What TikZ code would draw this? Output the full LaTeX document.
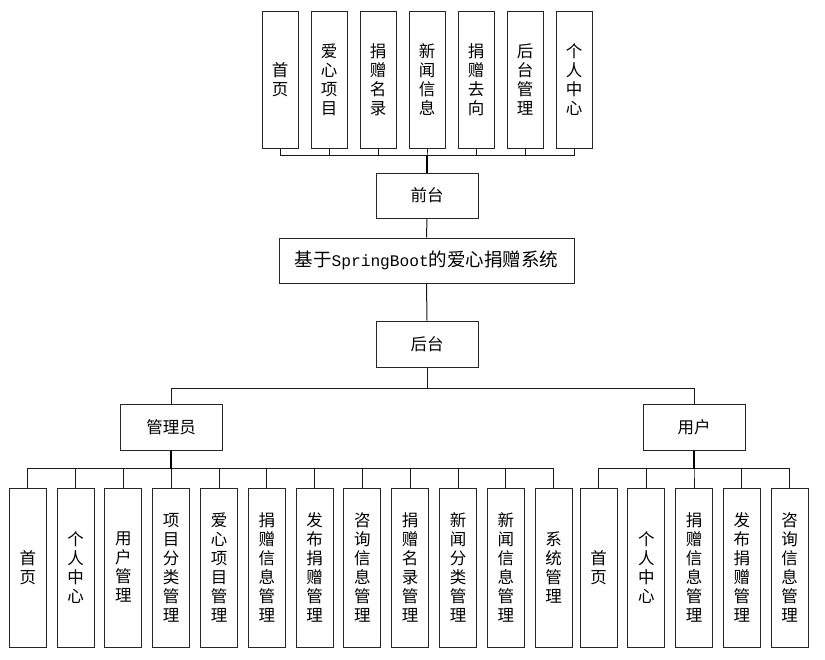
\documentclass[tikz,border=0pt]{standalone}
\usepackage{fontspec}
\setmainfont{Noto Sans CJK SC}
\newfontfamily\cjkfont{Noto Sans CJK SC}
\newfontfamily\latinmono{Liberation Mono}
\begin{document}
\begin{tikzpicture}[x=1pt,y=-1pt,
  box/.style={draw=black!85,line width=1pt,fill=white,inner sep=0pt,align=center,
    font=\cjkfont\fontsize{16.5}{19}\selectfont},
  vbox/.style={box,minimum width=36pt,minimum height=137pt},
  lbox/.style={box,minimum width=37pt,minimum height=159pt},
  hbox/.style={box,minimum width=102pt,minimum height=46pt},
  conn/.style={draw=black!90,line width=1pt},
  stem/.style={draw=black,line width=1.8pt}]
\useasboundingbox (0,0) rectangle (825,659);
\fill[white] (0,0) rectangle (825,659);

% top row
\node[vbox] (t1) at (280,79.5) {首\\页};
\node[vbox] (t2) at (329,79.5) {爱\\心\\项\\目};
\node[vbox] (t3) at (378,79.5) {捐\\赠\\名\\录};
\node[vbox] (t4) at (427,79.5) {新\\闻\\信\\息};
\node[vbox] (t5) at (476,79.5) {捐\\赠\\去\\向};
\node[vbox] (t6) at (525,79.5) {后\\台\\管\\理};
\node[vbox] (t7) at (574,79.5) {个\\人\\中\\心};

\node[hbox,minimum height=45pt] (qt) at (427,195.5) {前台};
\node[box,minimum width=295pt,minimum height=45pt,font=\cjkfont\fontsize{18.5}{20}\selectfont] (title) at (426.5,260.5)
  {基于{\latinmono\fontsize{16.2}{20}\selectfont SpringBoot}的爱心捐赠系统};
\node[hbox] (ht) at (427,344) {后台};
\node[hbox] (adm) at (171,427) {管理员};
\node[hbox] (usr) at (694,427) {用户};

% admin row
\node[lbox] (a1) at (27.8,567.5) {首\\页};
\node[lbox] (a2) at (75.6,567.5) {个\\人\\中\\心};
\node[lbox] (a3) at (123.4,567.5) {用\\户\\管\\理};
\node[lbox] (a4) at (171.2,567.5) {项\\目\\分\\类\\管\\理};
\node[lbox] (a5) at (219.0,567.5) {爱\\心\\项\\目\\管\\理};
\node[lbox] (a6) at (266.8,567.5) {捐\\赠\\信\\息\\管\\理};
\node[lbox] (a7) at (314.6,567.5) {发\\布\\捐\\赠\\管\\理};
\node[lbox] (a8) at (362.4,567.5) {咨\\询\\信\\息\\管\\理};
\node[lbox] (a9) at (410.2,567.5) {捐\\赠\\名\\录\\管\\理};
\node[lbox] (a10) at (458.0,567.5) {新\\闻\\分\\类\\管\\理};
\node[lbox] (a11) at (505.8,567.5) {新\\闻\\信\\息\\管\\理};
\node[lbox] (a12) at (553.6,567.5) {系\\统\\管\\理};

% user row
\node[lbox] (u1) at (598.5,567.5) {首\\页};
\node[lbox] (u2) at (646.25,567.5) {个\\人\\中\\心};
\node[lbox] (u3) at (694.0,567.5) {捐\\赠\\信\\息\\管\\理};
\node[lbox] (u4) at (741.75,567.5) {发\\布\\捐\\赠\\管\\理};
\node[lbox] (u5) at (789.5,567.5) {咨\\询\\信\\息\\管\\理};

% connectors
\foreach \i in {1,...,7} {\draw[conn] (qt.north) -- ++(0,-17) -| (t\i.south);}
\draw[stem] (qt.north) -- ++(0,-17);
\draw[conn] (qt.south) -- (title.north);
\draw[conn] (title.south) -- (ht.north);
\draw[conn] (ht.south) -- ++(0,21) -| (adm.north);
\draw[conn] (ht.south) -- ++(0,21) -| (usr.north);
\foreach \i in {1,...,12} {\draw[conn] (adm.south) -- ++(0,18) -| (a\i.north);}
\draw[stem] (adm.south) -- ++(0,18);
\foreach \i in {1,...,5} {\draw[conn] (usr.south) -- ++(0,18) -| (u\i.north);}
\draw[stem] (usr.south) -- ++(0,18);
\end{tikzpicture}
\end{document}
